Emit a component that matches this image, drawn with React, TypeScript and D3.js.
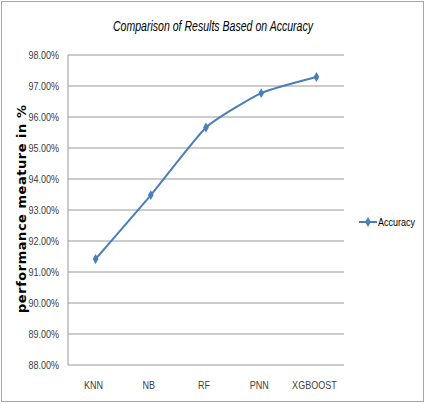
import React, { useEffect, useRef } from 'react';
import * as d3 from 'd3';

const categories = ['KNN', 'NB', 'RF', 'PNN', 'XGBOOST'];
const accuracy = [91.42, 93.48, 95.66, 96.77, 97.29];
const yTicks = [88, 89, 90, 91, 92, 93, 94, 95, 96, 97, 98];

const LINE_COLOR = '#4A7EBB';
const NARROW = 'Liberation Sans, Arial, sans-serif';

const App = () => {
  const chartRef = useRef<SVGSVGElement>(null);

  useEffect(() => {
    const width = 426;
    const height = 404;
    const margin = { top: 55, left: 68, right: 82, bottom: 39 };
    const plotW = width - margin.left - margin.right;
    const plotH = height - margin.top - margin.bottom;

    const root = d3.select(chartRef.current);
    root.selectAll('*').remove();
    root.attr('width', width).attr('height', height);

    root.append('rect')
      .attr('x', 1.5).attr('y', 1.5)
      .attr('width', width - 4).attr('height', height - 4)
      .attr('fill', '#fff')
      .attr('stroke', '#a6a6a6');

    root.append('text')
      .attr('x', 113).attr('y', 31)
      .attr('textLength', 200)
      .attr('lengthAdjust', 'spacingAndGlyphs')
      .attr('font-family', NARROW)
      .attr('font-style', 'italic')
      .attr('font-size', 15)
      .attr('fill', '#000')
      .text('Comparison of Results Based on Accuracy');

    const svg = root.append('g')
      .attr('transform', `translate(${margin.left},${margin.top})`);

    const x = d3.scaleBand()
      .domain(categories)
      .range([0, plotW]);

    const y = d3.scaleLinear()
      .domain([88, 98])
      .range([plotH, 0]);

    svg.append('g')
      .selectAll('line')
      .data(yTicks)
      .enter()
      .append('line')
      .attr('x1', 0).attr('x2', plotW)
      .attr('y1', d => y(d)).attr('y2', d => y(d))
      .attr('stroke', '#999')
      .attr('stroke-width', 1);

    svg.append('line')
      .attr('x1', 0).attr('x2', 0)
      .attr('y1', 0).attr('y2', plotH)
      .attr('stroke', '#999');

    // narrow labels: squeeze horizontally to mimic Calibri
    svg.append('g')
      .selectAll('text')
      .data(yTicks)
      .enter()
      .append('text')
      .attr('transform', d => `translate(-9,${y(d) + 4}) scale(0.82,1)`)
      .attr('text-anchor', 'end')
      .attr('font-family', NARROW)
      .attr('font-size', 11)
      .attr('fill', '#404040')
      .text(d => d.toFixed(2) + '%');

    svg.append('g')
      .selectAll('text')
      .data(categories)
      .enter()
      .append('text')
      .attr('transform', d => `translate(${x(d)! + x.bandwidth() / 2 - 2},${plotH + 24}) scale(0.82,1)`)
      .attr('text-anchor', 'middle')
      .attr('font-family', NARROW)
      .attr('font-size', 11)
      .attr('fill', '#404040')
      .text(d => d);

    const line = d3.line<number>()
      .x((d, i) => x(categories[i])! + x.bandwidth() / 2)
      .y(d => y(d))
      .curve(d3.curveCardinal.tension(0.5));

    svg.append('path')
      .datum(accuracy)
      .attr('fill', 'none')
      .attr('stroke', LINE_COLOR)
      .attr('stroke-width', 2)
      .attr('d', line);

    const diamond = d3.symbol().type(d3.symbolDiamond).size(28);
    svg.append('g')
      .selectAll('path')
      .data(accuracy)
      .enter()
      .append('path')
      .attr('transform', (d, i) => `translate(${x(categories[i])! + x.bandwidth() / 2},${y(d)})`)
      .attr('d', diamond)
      .attr('fill', LINE_COLOR);

    root.append('text')
      .attr('transform', 'translate(26,209) rotate(-90)')
      .attr('text-anchor', 'middle')
      .attr('textLength', 208)
      .attr('lengthAdjust', 'spacing')
      .attr('font-family', 'DejaVu Sans, sans-serif')
      .attr('font-weight', 'bold')
      .attr('font-size', 13)
      .attr('fill', '#000')
      .text('performance meature in %');

    const legend = root.append('g').attr('transform', 'translate(359,222)');
    legend.append('line')
      .attr('x1', 0).attr('x2', 18)
      .attr('y1', 0).attr('y2', 0)
      .attr('stroke', LINE_COLOR)
      .attr('stroke-width', 2);
    legend.append('path')
      .attr('transform', 'translate(9,0)')
      .attr('d', diamond)
      .attr('fill', LINE_COLOR);
    legend.append('text')
      .attr('transform', 'translate(19,4) scale(0.82,1)')
      .attr('font-family', NARROW)
      .attr('font-size', 11)
      .attr('fill', '#000')
      .text('Accuracy');
  }, []);

  return (
    <svg ref={chartRef} style={{ position: 'absolute', left: 0, top: 0 }}></svg>
  );
};

export default App;
